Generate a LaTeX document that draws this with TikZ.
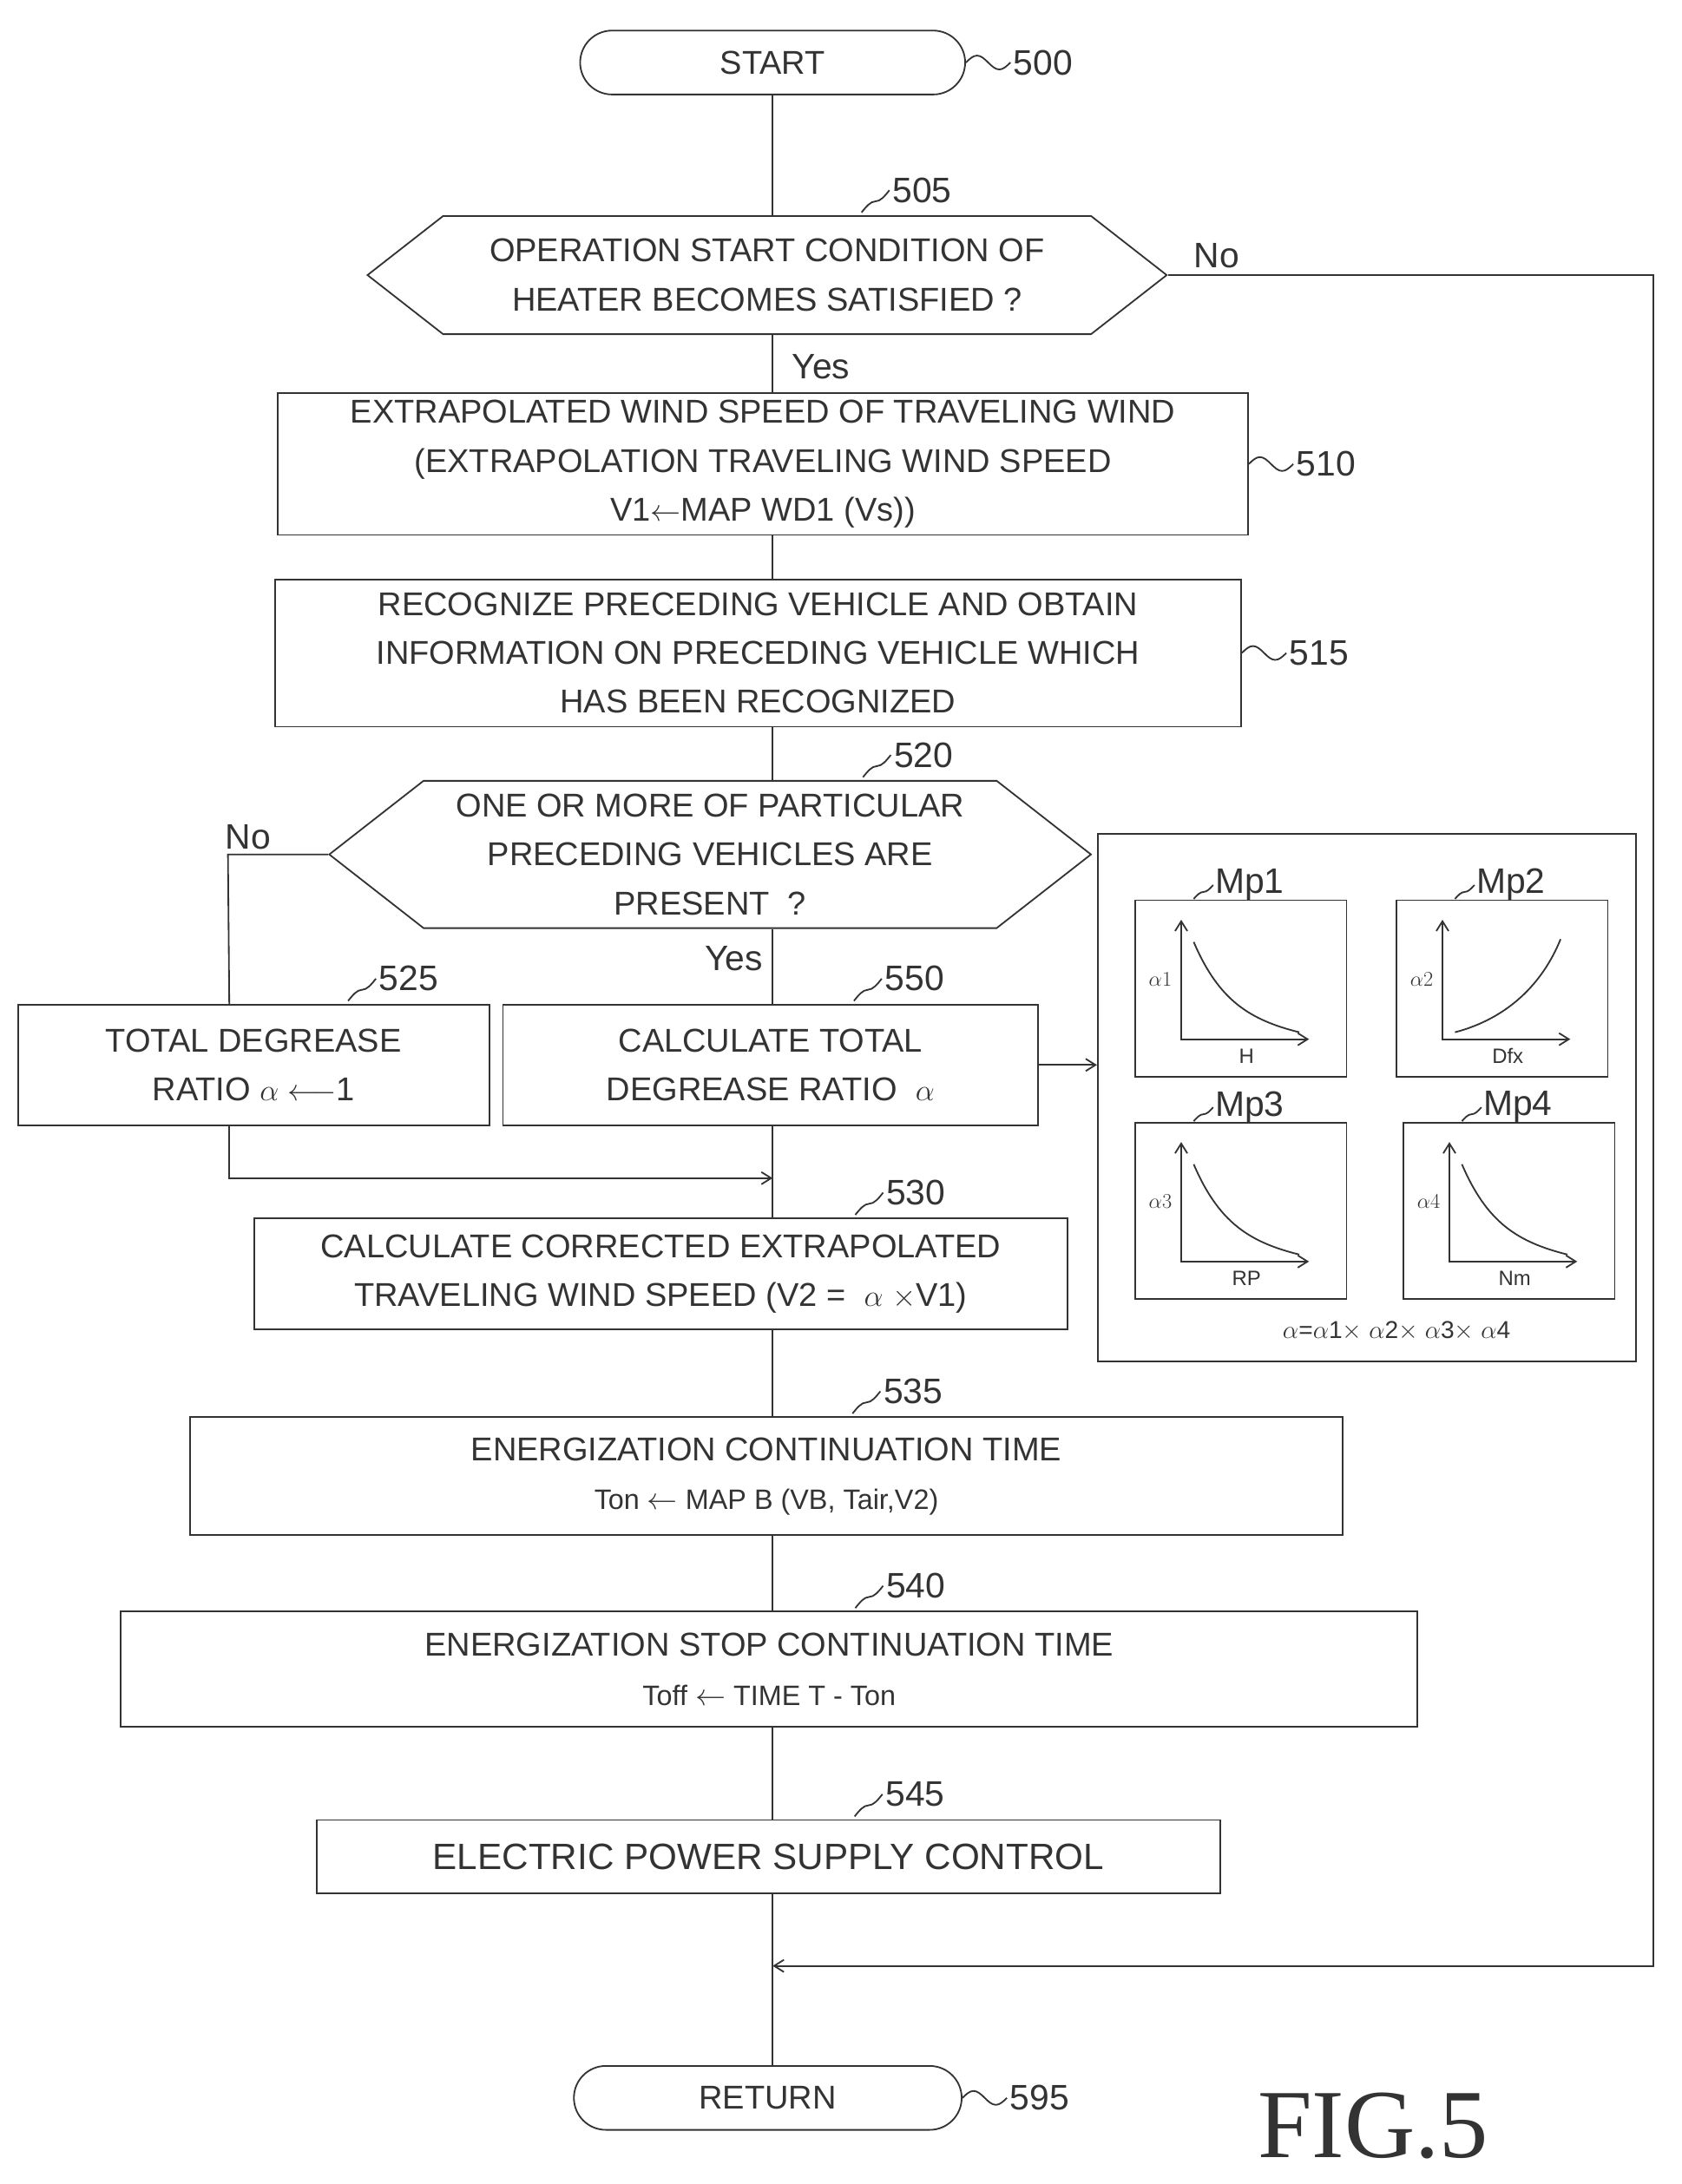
\documentclass[tikz,border=0pt]{standalone}
\usepackage{fontspec}
\setmainfont{Liberation Sans}
\newfontfamily\figfont{Liberation Serif}
\usetikzlibrary{shapes.symbols,calc,arrows.meta}
\tikzset{
  box/.style = {draw, align=center, inner sep=0pt, font=\fontsize{27}{40}\selectfont},
  term/.style = {box, rounded corners=0.92cm, minimum height=1.84cm},
  hexa/.style = {box, signal, signal to=west and east, signal pointer angle=76},
  lbl/.style = {font=\fontsize{29}{34}\selectfont},
  small/.style = {font=\fontsize{17}{20}\selectfont, inner sep=1pt},
  flow/.style = {line width=1.3pt, color=black!80, >={Straight Barb[length=8pt,width=10pt]}},
}
\newcommand{\squig}[2]{%
  \draw (#1) sin ++(8,-5) cos ++(8,5) sin ++(8,5) cos ++(8,-5) node[lbl,right,inner sep=2pt] {#2};
}
\newcommand{\squigup}[2]{%
  \draw (#1) ++(0,-2) sin ++(10,-8) cos ++(10,-8) node[lbl,right,inner sep=2pt] {#2};
}
\begin{document}
\begin{tikzpicture}[x=0.04cm,y=-0.04cm,every path/.style={flow}]
  \useasboundingbox (0,0) rectangle (1210,1572);
  % terminals and steps
  \node[term, minimum width=11.08cm] (start) at (556,45) {START};
  \node[hexa, minimum width=23cm, minimum height=3.4cm] (d505) at (552,198)
    {OPERATION START CONDITION OF\\HEATER BECOMES SATISFIED ?};
  \node[box, minimum width=27.92cm, minimum height=4.08cm] (b510) at (549,334)
    {EXTRAPOLATED WIND SPEED OF TRAVELING WIND\\(EXTRAPOLATION TRAVELING WIND SPEED\\V1$\leftarrow$MAP WD1 (Vs))};
  \node[box, minimum width=27.8cm, minimum height=4.24cm] (b515) at (545.5,470)
    {RECOGNIZE PRECEDING VEHICLE AND OBTAIN\\INFORMATION ON PRECEDING VEHICLE WHICH\\HAS BEEN RECOGNIZED};
  \node[hexa, minimum width=21.92cm, minimum height=4.24cm] (d520) at (511,615)
    {ONE OR MORE OF PARTICULAR\\PRECEDING VEHICLES ARE\\PRESENT \ ?};
  \node[box, minimum width=13.56cm, minimum height=3.48cm] (b525) at (182.5,766.5)
    {TOTAL DEGREASE\\RATIO $\alpha\longleftarrow$1};
  \node[box, minimum width=15.4cm, minimum height=3.48cm] (b550) at (554.5,766.5)
    {CALCULATE TOTAL\\DEGREASE RATIO \ $\alpha$};
  \node[box, minimum width=23.4cm, minimum height=3.2cm] (b530) at (475.5,917)
    {CALCULATE CORRECTED EXTRAPOLATED\\TRAVELING WIND SPEED (V2 = \ $\alpha$ $\times$V1)};
  \node[box, minimum width=33.16cm, minimum height=3.4cm] (b535) at (551.5,1062.5)
    {ENERGIZATION CONTINUATION TIME\\{\fontsize{23}{30}\selectfont Ton $\leftarrow$ MAP B (VB, Tair,V2)}};
  \node[box, minimum width=37.32cm, minimum height=3.32cm] (b540) at (553.5,1201.5)
    {ENERGIZATION STOP CONTINUATION TIME\\{\fontsize{23}{30}\selectfont Toff $\leftarrow$ TIME T - Ton}};
  \node[box, minimum width=26cm, minimum height=2.12cm, font=\fontsize{30}{36}\selectfont] (b545) at (553,1336.5)
    {ELECTRIC POWER SUPPLY CONTROL};
  \node[term, minimum width=11.16cm] (ret) at (552.5,1510) {RETURN};
  % map panel
  \node[box, minimum width=15.48cm, minimum height=15.2cm] (panel) at (983.5,790) {};
  \foreach \bx/\by/\mname/\ya/\xa/\inc in {817/648/Mp1/$\alpha1$/H/0, 1005/648/Mp2/$\alpha2$/Dfx/1, 817/808/Mp3/$\alpha3$/RP/0, 1010/808/Mp4/$\alpha4$/Nm/0} {%
    \draw (\bx,\by) rectangle ++(152,127);
    \draw[<->] (\bx+33,\by+14) -- (\bx+33,\by+100) -- (\bx+125,\by+100);
    \ifnum\inc=1
      \draw (\bx+42,\by+95) .. controls (\bx+80,\by+85) and (\bx+105,\by+60) .. (\bx+118,\by+28);
    \else
      \draw (\bx+42,\by+30) .. controls (\bx+60,\by+72) and (\bx+82,\by+86) .. (\bx+118,\by+95);
    \fi
    \node[small] at (\bx+18,\by+57) {\ya};
    \node[small] at (\bx+80,\by+112) {\xa};
    \draw (\bx+42,\by-1) sin ++(7,-5) cos ++(7,-5) node[lbl,right,inner sep=1pt] {\mname};
  }
  \node[small, font=\fontsize{20}{24}\selectfont] (eq) at (1005,958)
    {$\alpha$=$\alpha$1$\times$ $\alpha$2$\times$ $\alpha$3$\times$ $\alpha$4};
  % step numbers
  \squig{start.east}{500}
  \squigup{$(d505.north)+(68,0)$}{505}
  \squig{b510.east}{510}
  \squig{b515.east}{515}
  \squigup{$(d520.north)+(110,0)$}{520}
  \squigup{$(b525.north)+(68,0)$}{525}
  \squigup{$(b550.north)+(60,0)$}{550}
  \squigup{$(b530.north)+(140,0)$}{530}
  \squigup{$(b535.north)+(62,0)$}{535}
  \squigup{$(b540.north)+(62,0)$}{540}
  \squigup{$(b545.north)+(62,0)$}{545}
  \squig{ret.east}{595}
  % connectors
  \coordinate (join) at (556,1415);
  \coordinate (merge) at (556,848);
  \draw (start) -- (start |- d505.north);
  \draw (d505.south -| start) -- node[lbl,pos=0.55,right,xshift=12pt] {Yes} (b510.north -| start);
  \draw (b510.south -| start) -- (b515.north -| start);
  \draw (b515.south -| start) -- (d520.north -| start);
  \draw (d520.south -| start) -- node[lbl,pos=0.4,left,xshift=-4pt] {Yes} (b550.north -| start);
  \draw (b550.south -| start) -- (b530.north -| start);
  \draw (d520.west) -- ++(-72,0) node[lbl,above right,xshift=-6pt] {No} -- (165,723);
  \draw[->] (165,810) -- (165,848) -- (merge);
  \draw[->] (b550.east) -- (panel.west |- b550.east);
  \draw (b530.south -| start) -- (b535.north -| start);
  \draw (b535.south -| start) -- (b540.north -| start);
  \draw (b540.south -| start) -- (b545.north -| start);
  \draw (b545.south -| start) -- (ret.north -| start);
  \draw[->] (d505.east) -- node[lbl,pos=0.1,above,yshift=2pt] {No} (1190,198) -- (1190,1415) -- (join);
  % figure title
  \node[font=\figfont\fontsize{80}{90}\selectfont] (fig) at (988,1530) {FIG.5};
\end{tikzpicture}
\end{document}
